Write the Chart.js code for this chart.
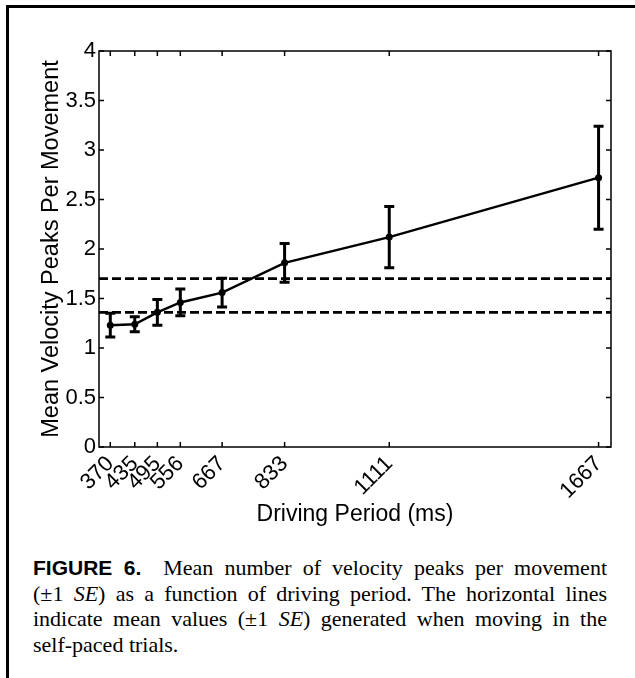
<!DOCTYPE html>
<html>
<head>
<meta charset="utf-8">
<script src="https://cdn.jsdelivr.net/npm/chart.js@4"></script>
<style>
  body { margin: 0; background: #fff; width: 635px; height: 678px; overflow: hidden; position: relative; }
  #frame { position: absolute; left: 6px; top: 5px; width: 700px; height: 700px; border-top: 3px solid #000; border-left: 3px solid #000; }
  #wrap { position: absolute; left: 0; top: 0; width: 635px; height: 530px; }
  #caption { position: absolute; left: 33px; top: 555px; width: 574px; font-family: "Liberation Serif", serif; font-size: 22px; line-height: 25.5px; color: #000; }
  #caption div { text-align: justify; text-align-last: justify; white-space: nowrap; }
  #caption div.last { text-align-last: left; }
  #caption b { font-family: "Liberation Sans", Arial, sans-serif; font-size: 21px; }
</style>
</head>
<body>
<div id="frame"></div>
<div id="wrap"><canvas id="chart"></canvas></div>
<div id="caption">
  <div><b>FIGURE 6.</b>&nbsp; Mean number of velocity peaks per movement</div>
  <div>(&plusmn;1 <i>SE</i>) as a function of driving period. The horizontal lines</div>
  <div>indicate mean values (&plusmn;1 <i>SE</i>) generated when moving in the</div>
  <div class="last">self-paced trials.</div>
</div>
<script>
// driving period (ms) and mean number of velocity peaks, +-1 SE
const periods = [370, 435, 495, 556, 667, 833, 1111, 1667];
const meanPeaks = [1.23, 1.24, 1.36, 1.46, 1.56, 1.86, 2.12, 2.72];
const sePeaks = [0.12, 0.075, 0.13, 0.135, 0.145, 0.195, 0.31, 0.52];
// self-paced mean +-1 SE (the two dashed lines)
const selfPacedBand = [1.36, 1.70];
const xRange = [340, 1700];
const yTicks = [0, 0.5, 1, 1.5, 2, 2.5, 3, 3.5, 4];

const tickFont = { family: '"Liberation Sans", Arial, sans-serif', size: 22 };

// error bars drawn through the chart scales
const errorBars = {
  id: 'errorBars',
  afterDatasetsDraw(chart) {
    const x = chart.scales.x, y = chart.scales.y, ctx = chart.ctx;
    ctx.save();
    ctx.strokeStyle = '#000';
    ctx.lineWidth = 3;
    periods.forEach((p, i) => {
      const px = x.getPixelForValue(p);
      const top = y.getPixelForValue(meanPeaks[i] + sePeaks[i]);
      const bot = y.getPixelForValue(meanPeaks[i] - sePeaks[i]);
      ctx.beginPath();
      ctx.moveTo(px, top); ctx.lineTo(px, bot);
      ctx.moveTo(px - 5, top); ctx.lineTo(px + 5, top);
      ctx.moveTo(px - 5, bot); ctx.lineTo(px + 5, bot);
      ctx.stroke();
    });
    ctx.restore();
  }
};

// matlab style box with inward ticks on all sides
const boxAxes = {
  id: 'boxAxes',
  afterDraw(chart) {
    const { left, right, top, bottom } = chart.chartArea;
    const x = chart.scales.x, y = chart.scales.y, ctx = chart.ctx;
    ctx.save();
    ctx.strokeStyle = '#000';
    ctx.lineWidth = 1.5;
    ctx.strokeRect(left, top, right - left, bottom - top);
    ctx.beginPath();
    y.ticks.forEach(t => {
      const py = y.getPixelForValue(t.value);
      ctx.moveTo(left, py); ctx.lineTo(left + 5, py);
      ctx.moveTo(right, py); ctx.lineTo(right - 5, py);
    });
    x.ticks.forEach(t => {
      const px = x.getPixelForValue(t.value);
      ctx.moveTo(px, bottom); ctx.lineTo(px, bottom - 5);
      ctx.moveTo(px, top); ctx.lineTo(px, top + 5);
    });
    ctx.stroke();
    ctx.restore();
  }
};

const hline = v => [{ x: xRange[0], y: v }, { x: xRange[1], y: v }];

new Chart(document.getElementById('chart'), {
  type: 'line',
  data: {
    datasets: [{
      data: periods.map((p, i) => ({ x: p, y: meanPeaks[i] })),
      borderColor: '#000',
      borderWidth: 2.4,
      pointRadius: 3.5,
      pointBackgroundColor: '#000',
      pointBorderWidth: 0
    }, {
      data: hline(selfPacedBand[0]),
      borderColor: '#000',
      borderWidth: 2.8,
      borderDash: [9, 4],
      pointRadius: 0
    }, {
      data: hline(selfPacedBand[1]),
      borderColor: '#000',
      borderWidth: 2.8,
      borderDash: [9, 4],
      pointRadius: 0
    }]
  },
  options: {
    responsive: true,
    maintainAspectRatio: false,
    animation: false,
    layout: { padding: { top: 51, right: 24, left: 0, bottom: 0 } },
    plugins: { legend: { display: false }, tooltip: { enabled: false } },
    scales: {
      x: {
        type: 'linear',
        min: xRange[0],
        max: xRange[1],
        afterBuildTicks: s => { s.ticks = periods.map(v => ({ value: v })); },
        afterFit: s => { s.height = 83; },
        grid: { display: false, drawTicks: false },
        border: { display: false },
        ticks: {
          autoSkip: false, minRotation: 45, maxRotation: 45, padding: 4,
          color: '#000', font: tickFont, callback: v => String(v)
        },
        title: {
          display: true, text: 'Driving Period (ms)', color: '#000',
          font: { family: '"Liberation Sans", Arial, sans-serif', size: 23 },
          padding: { top: 0, bottom: 2 }
        }
      },
      y: {
        min: 0,
        max: 4,
        afterBuildTicks: s => { s.ticks = yTicks.map(v => ({ value: v })); },
        afterFit: s => { s.width = 99; },
        grid: { display: false, drawTicks: false },
        border: { display: false },
        ticks: { padding: 3, color: '#000', font: tickFont, callback: v => String(v) },
        title: {
          display: true, text: 'Mean Velocity Peaks Per Movement', color: '#000',
          font: { family: '"Liberation Sans", Arial, sans-serif', size: 23.5 },
          padding: { top: 37, bottom: 0 }
        }
      }
    }
  },
  plugins: [errorBars, boxAxes]
});
</script>
</body>
</html>
